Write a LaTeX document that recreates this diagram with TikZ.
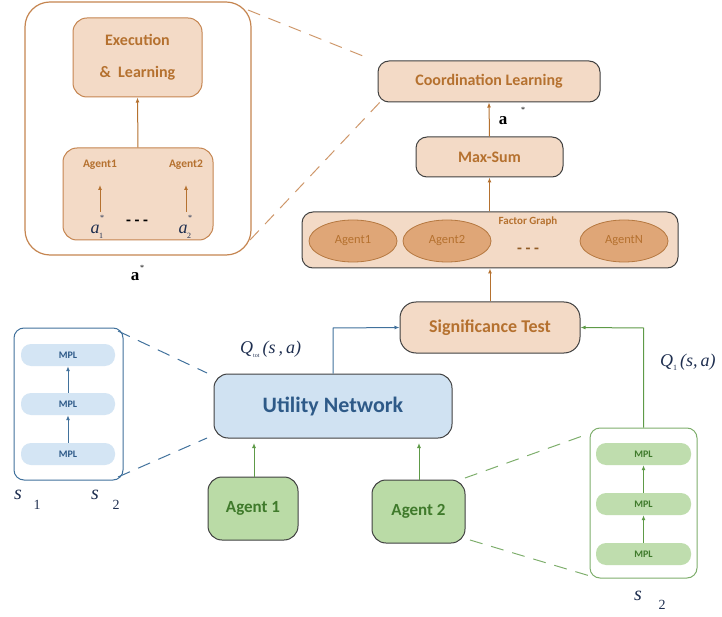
\documentclass[tikz,border=0pt]{standalone}
\usepackage{fontspec}
\setmainfont{Carlito}
\newfontfamily\tms{Liberation Serif}
\usetikzlibrary{arrows.meta,shapes.geometric}
\definecolor{ofill}{HTML}{F3DAC6}
\definecolor{otext}{HTML}{B5712F}
\definecolor{oline}{HTML}{C58550}
\definecolor{efill}{HTML}{DFA677}
\definecolor{eline}{HTML}{B57840}
\definecolor{bfill}{HTML}{D0E2F2}
\definecolor{btext}{HTML}{2E5A88}
\definecolor{bline}{HTML}{41719C}
\definecolor{bpill}{HTML}{D4E5F4}
\definecolor{gfill}{HTML}{BADBA6}
\definecolor{gtext}{HTML}{3F7A2B}
\definecolor{gline}{HTML}{5E9A47}
\definecolor{gpill}{HTML}{BFDDAE}
\definecolor{dk}{HTML}{404040}
\definecolor{qcol}{HTML}{1F2F50}
\tikzset{
  obox/.style={draw=dk, line width=1pt, fill=ofill, rounded corners=11pt, text=otext, font=\bfseries, align=center},
  ibox/.style={draw=oline, line width=1pt, fill=ofill, rounded corners=14pt},
  bbox/.style={draw=dk, line width=1pt, fill=bfill, rounded corners=14pt, text=btext, font=\bfseries},
  gbox/.style={draw=dk, line width=1pt, fill=gfill, rounded corners=14pt, text=gtext, font=\bfseries},
  agell/.style={ellipse, draw=eline, line width=0.8pt, fill=efill, text=otext, minimum width=88pt, minimum height=42pt, font=\fontsize{12.5}{14}\selectfont},
  bpillst/.style={fill=bpill, rounded corners=10pt, minimum width=94pt, minimum height=22pt, text=btext, font=\fontsize{10}{12}\selectfont\bfseries},
  gpillst/.style={fill=gpill, rounded corners=10pt, minimum width=95pt, minimum height=22pt, text=gtext, font=\fontsize{10}{12}\selectfont\bfseries},
  oarr/.style={draw=otext, line width=1pt, -{Latex[length=5pt,width=4pt]}},
  barr/.style={draw=bline, line width=1pt, -{Latex[length=5pt,width=4pt]}},
  garr/.style={draw=gline, line width=1pt, -{Latex[length=5pt,width=4pt]}},
  odash/.style={draw=oline!85, line width=1pt, dash pattern=on 13pt off 9pt},
  bdash/.style={draw=bline, line width=1pt, dash pattern=on 13pt off 9pt},
  gdash/.style={draw=gline!80, line width=1pt, dash pattern=on 13pt off 9pt},
  lbl/.style={inner sep=0pt, text=qcol, font=\tms},
  tiny/.style={inner sep=0pt, text=qcol, font=\tms\fontsize{8}{8}\selectfont}
}
\begin{document}
\begin{tikzpicture}[x=1pt,y=-1pt]
\useasboundingbox (0,0) rectangle (722,617);

% ---------- left zoom box (orange) ----------
\node[draw=oline, line width=1.2pt, fill=white, rounded corners=25pt, minimum width=226pt, minimum height=253pt, inner sep=0pt] (big) at (138,128.5) {};
\node[ibox, minimum width=129pt, minimum height=79pt, inner sep=0pt, text=otext, font=\fontsize{16}{33}\selectfont\bfseries, align=center] (exec) at (137.5,57.5) {Execution\\[-1pt]\&\ \ Learning};
\node[ibox, minimum width=150pt, minimum height=92pt, inner sep=0pt] (inner) at (138,194) {};
\node[text=otext, font=\fontsize{11.5}{13}\selectfont\bfseries, inner sep=0pt] (ia1) at (100,165) {Agent1};
\node[text=otext, font=\fontsize{11.5}{13}\selectfont\bfseries, inner sep=0pt] (ia2) at (186,165) {Agent2};
\node[lbl, font=\tms\itshape\fontsize{18}{20}\selectfont] (as1) at (95,229) {a};
\node[tiny] (as1s) at (102,218) {*};
\node[tiny] (as1i) at (101,236) {1};
\node[lbl, font=\tms\itshape\fontsize{18}{20}\selectfont] (as2) at (183,229) {a};
\node[tiny] (as2s) at (190,218) {*};
\node[tiny] (as2i) at (189,236) {2};
\node[inner sep=0pt, font=\bfseries\fontsize{16}{16}\selectfont] (idots) at (137,223) {- - -};
\draw[oarr] (inner.north) -- (exec.south);
\draw[oarr] (100,212) -- (100,185);
\draw[oarr] (186,212) -- (186,185);
\node[lbl, text=black, font=\tms\bfseries\fontsize{17}{17}\selectfont] (astar) at (135,277) {a};
\node[tiny, text=black] (astars) at (142,268) {*};

% ---------- right column (orange) ----------
\node[obox, minimum width=222pt, minimum height=41pt, inner sep=0pt, font=\fontsize{16}{18}\selectfont\bfseries] (cl) at (489,81.5) {Coordination Learning};
\node[obox, minimum width=147pt, minimum height=40pt, inner sep=0pt, font=\fontsize{16}{18}\selectfont\bfseries] (ms) at (489.5,157) {Max-Sum};
\node[obox, minimum width=376pt, minimum height=56pt, inner sep=0pt] (fg) at (490,240) {};
\node[text=otext, font=\fontsize{11}{13}\selectfont\bfseries, inner sep=0pt] (fgl) at (528,222) {Factor Graph};
\node[agell] (e1) at (353,241) {Agent1};
\node[agell] (e2) at (447,241) {Agent2};
\node[agell] (en) at (624,241) {AgentN};
\node[inner sep=0pt, text=otext!80!black, font=\bfseries\fontsize{16}{16}\selectfont] (fdots) at (528,251) {- - -};
\node[obox, minimum width=180pt, minimum height=51pt, inner sep=0pt, rounded corners=16pt, font=\fontsize{18}{20}\selectfont\bfseries] (sig) at (490,327.5) {Significance Test};
\draw[oarr] (ms.north) -- (cl.south);
\draw[oarr] (fg.north -| ms.north) -- (ms.south);
\draw[oarr] (sig.north) -- (fg.south -| sig.north);
\node[lbl, text=black, font=\tms\bfseries\fontsize{17}{17}\selectfont] (a2) at (503,121) {a};
\node[tiny, text=black] (a2s) at (523,110) {*};

% dashed connectors orange
\coordinate (bigA) at (248,10);
\coordinate (bigB) at (250,240);
\coordinate (clA) at (368,58);
\coordinate (clB) at (382,100);
\draw[odash] (bigA) -- (clA);
\draw[odash] (bigB) -- (clB);

% ---------- utility network ----------
\node[bbox, minimum width=238pt, minimum height=64pt, inner sep=0pt, font=\fontsize{22}{24}\selectfont\bfseries] (un) at (333,406) {Utility Network};
\node[gbox, minimum width=90pt, minimum height=63pt, inner sep=0pt, font=\fontsize{17}{19}\selectfont\bfseries] (ag1) at (253,508.5) {Agent 1};
\node[gbox, minimum width=93pt, minimum height=63pt, inner sep=0pt, font=\fontsize{17}{19}\selectfont\bfseries] (ag2) at (418.5,511.5) {Agent 2};
\draw[garr] (ag1.north -| 254,0) -- (254,443);
\draw[garr] (ag2.north -| 419,0) -- (419,443);
\draw[barr] (un.north) -- (333,328) -- (sig.west);

% left blue zoom box
\node[draw=bline, line width=1pt, fill=white, rounded corners=10pt, minimum width=109pt, minimum height=152pt, inner sep=0pt] (lbox) at (68.5,404) {};
\node[bpillst] (bp1) at (68,355) {MPL};
\node[bpillst] (bp2) at (68,404) {MPL};
\node[bpillst] (bp3) at (68,454) {MPL};
\draw[barr] (bp3.north) -- (bp2.south);
\draw[barr] (bp2.north) -- (bp1.south);
\coordinate (lbA) at (118,331);
\coordinate (lbB) at (118,477);
\coordinate (unA) at (207,373);
\coordinate (unB) at (207,438);
\draw[bdash] (lbA) -- (unA);
\draw[bdash] (lbB) -- (unB);
\node[lbl, font=\tms\itshape\fontsize{20}{20}\selectfont] (s1) at (18,495) {s};
\node[lbl, font=\tms\fontsize{14}{14}\selectfont] (s1i) at (37,505) {1};
\node[lbl, font=\tms\itshape\fontsize{20}{20}\selectfont] (s2) at (95,495) {s};
\node[lbl, font=\tms\fontsize{14}{14}\selectfont] (s2i) at (116,505) {2};

% right green zoom box
\node[draw=gline!80, line width=1pt, fill=white, rounded corners=10pt, minimum width=107pt, minimum height=150pt, inner sep=0pt] (rbox) at (643.5,503) {};
\node[gpillst] (gp1) at (643.5,454) {MPL};
\node[gpillst] (gp2) at (643.5,504) {MPL};
\node[gpillst] (gp3) at (643.5,554) {MPL};
\draw[garr] (gp3.north) -- (gp2.south);
\draw[garr] (gp2.north) -- (gp1.south);
\draw[garr] (rbox.north) -- (643.5,328) -- (sig.east);
\coordinate (agA) at (465,478);
\coordinate (agB) at (470,540);
\coordinate (rbA) at (588,434);
\coordinate (rbB) at (590,576);
\draw[gdash] (agA) -- (rbA);
\draw[gdash] (agB) -- (rbB);
\node[lbl, font=\tms\itshape\fontsize{20}{20}\selectfont] (s3) at (638,596) {s};
\node[lbl, font=\tms\fontsize{14}{14}\selectfont] (s3i) at (662,605) {2};

% Q labels
\node[lbl, anchor=west, font=\tms\itshape\fontsize{18}{18}\selectfont] (qtot) at (240,349) {Q\raisebox{-4pt}{\fontsize{6}{6}\selectfont\upshape tot}\,(s\,,\,a)};
\node[lbl, anchor=west, font=\tms\itshape\fontsize{18}{18}\selectfont] (q1) at (660,362) {Q\raisebox{-4pt}{\fontsize{8}{8}\selectfont\upshape 1}\,(s,\,a)};
\end{tikzpicture}
\end{document}
